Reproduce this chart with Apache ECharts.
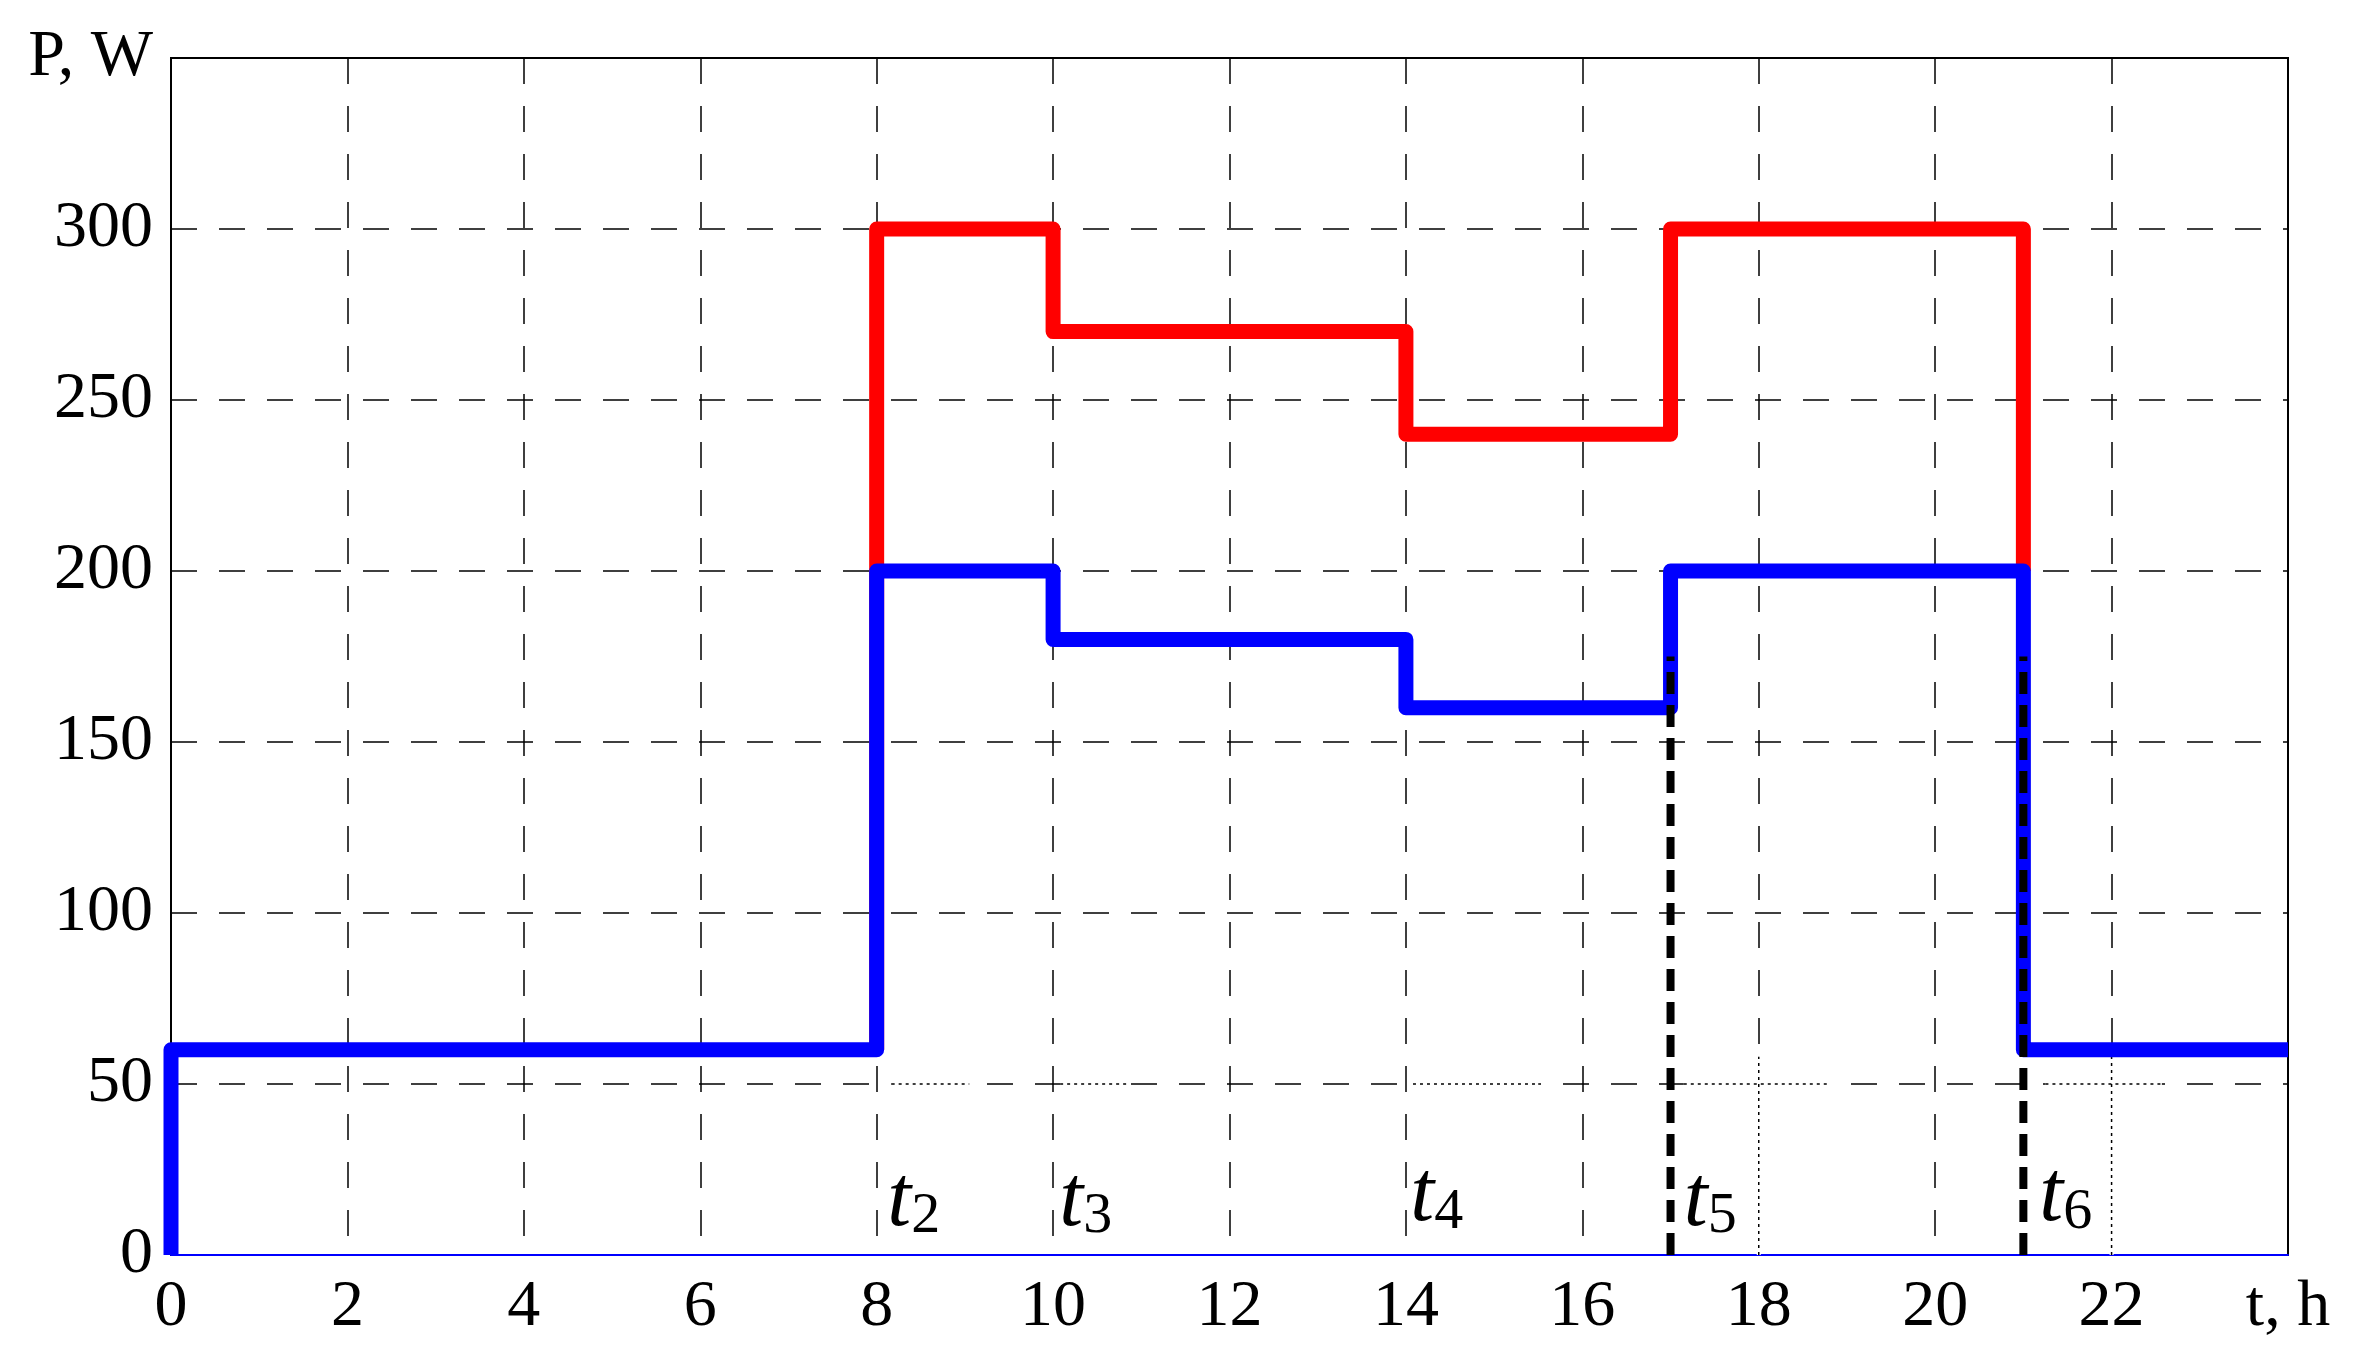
<!DOCTYPE html>
<html><head><meta charset="utf-8">
<script src="https://cdn.jsdelivr.net/npm/echarts@6/dist/echarts.min.js"></script>
<style>html,body{margin:0;padding:0;background:#fff}#c{width:2376px;height:1359px}</style>
</head><body><div id="c"></div>
<script>
// ---- data ----
const xTicks = [0,2,4,6,8,10,12,14,16,18,20,22,24];
const xTickLabels = ['0','2','4','6','8','10','12','14','16','18','20','22','t, h'];
const yTicks = [0,50,100,150,200,250,300,350];
const yTickLabels = ['0','50','100','150','200','250','300','P, W'];

const redT = [8,8,10,10,14,14,17,17,21,21];
const redP = [60,300,300,270,270,240,240,300,300,200];

const blueT = [0,0,8,8,10,10,14,14,17,17,21,21,24];
const blueP = [0,60,60,200,200,180,180,160,160,200,200,60,60];

const markerT = [17,21];
const markerTop = 175;

const tSubs = ['2','3','4','5','6'];
const tLabelX = [8.12,10.07,14.05,17.15,21.18];
const tLabelY = [15.5,15.5,16.7,15.5,16.7];

const dottedHY = 50;
const dottedHFrom = [8.17,10.08,14.08,17.15,21.25];
const dottedHTo = [9.05,10.85,15.5,18.8,22.57];
const dottedVX = [18,22];
const dottedVTop = 58;

// ---- build ----
const FONT = "'Liberation Serif', 'Times New Roman', serif";
const zip = (a,b) => a.map((v,i)=>[v,b[i]]);
const series = [];

dottedHFrom.forEach((f,i)=>{
  const d = [[f,dottedHY],[dottedHTo[i],dottedHY]];
  series.push({type:'line',data:d,symbol:'none',silent:true,z:1,lineStyle:{color:'#fff',width:4}});
  series.push({type:'line',data:d,symbol:'none',silent:true,z:1.5,lineStyle:{color:'#000',width:1.5,type:[3,4]}});
});
dottedVX.forEach(x=>{
  const d = [[x,0],[x,dottedVTop]];
  series.push({type:'line',data:d,symbol:'none',silent:true,z:1,lineStyle:{color:'#fff',width:4}});
  series.push({type:'line',data:d,symbol:'none',silent:true,z:1.5,lineStyle:{color:'#000',width:1.5,type:[3,4]}});
});

series.push({type:'line',data:zip(redT,redP),symbol:'none',z:3,
  lineStyle:{color:'#ff0000',width:15,join:'round',cap:'butt'}});
series.push({type:'line',data:zip(blueT,blueP),symbol:'none',z:4,
  lineStyle:{color:'#0000ff',width:15,join:'round',cap:'butt'}});

markerT.forEach(x=>{
  series.push({type:'line',data:[[x,0],[x,markerTop]],symbol:'none',z:5,
    lineStyle:{color:'#000',width:8,type:[22,11]}});
});

series.push({type:'scatter',data:zip(tLabelX,tLabelY),symbolSize:0,z:6,silent:true,
  itemStyle:{color:'#000',opacity:1},
  label:{show:true,position:'right',distance:0,color:'#000',opacity:1,
    formatter:p=>'{t|t}{s|'+tSubs[p.dataIndex]+'}',
    rich:{
      t:{fontFamily:FONT,fontStyle:'italic',fontSize:86,color:'#000'},
      s:{fontFamily:FONT,fontSize:58,color:'#000',padding:[30,0,0,0]}
    }}});

const chart = echarts.init(document.getElementById('c'));
chart.setOption({
  animation:false,
  backgroundColor:'#fff',
  grid:{left:171,right:88,top:58,bottom:104,show:true,borderColor:'#000',borderWidth:2,backgroundColor:'transparent'},
  xAxis:{type:'value',min:0,max:24,interval:2,
    axisLine:{show:true,lineStyle:{color:'#0000ff',width:2}},
    axisTick:{show:false},
    splitLine:{show:true,lineStyle:{color:'#000',width:1.5,type:[26,22]}},
    axisLabel:{show:true,showMinLabel:true,showMaxLabel:true,margin:20,color:'#000',fontFamily:FONT,fontSize:66,
      formatter:v=>{const i=xTicks.indexOf(v);return i>=0?xTickLabels[i]:'';}}},
  yAxis:{type:'value',min:0,max:350,interval:50,
    axisLine:{show:true,lineStyle:{color:'#000',width:2}},
    axisTick:{show:false},
    splitLine:{show:true,lineStyle:{color:'#000',width:1.5,type:[26,22]}},
    axisLabel:{show:true,showMinLabel:true,showMaxLabel:true,margin:18,color:'#000',fontFamily:FONT,fontSize:66,
      formatter:v=>{const i=yTicks.indexOf(v);return i>=0?yTickLabels[i]:'';}}},
  series:series
});
</script></body></html>
